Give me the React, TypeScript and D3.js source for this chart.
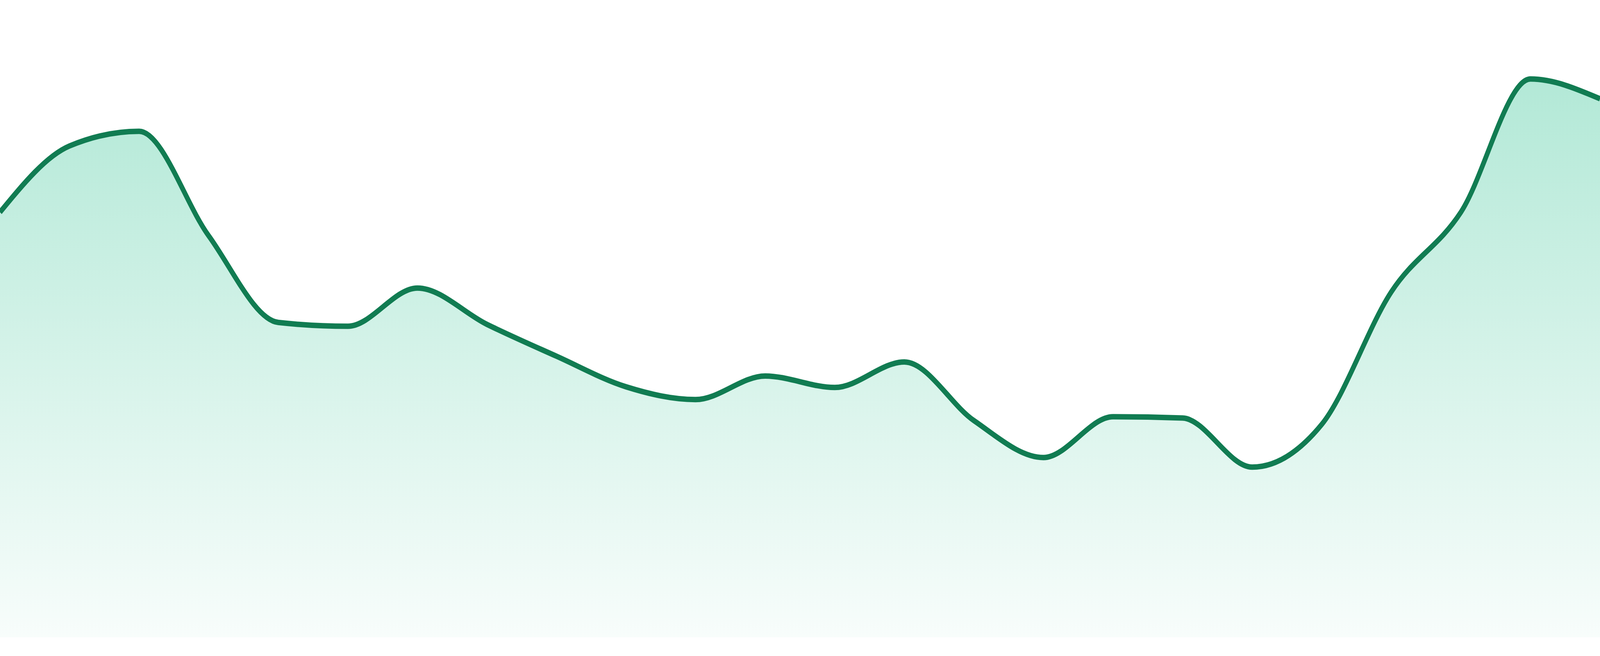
import React, { useEffect, useRef } from "react";
import * as d3 from "d3";

// hourly buckets, 24 points
const hours = [
  "00:00", "01:00", "02:00", "03:00", "04:00", "05:00",
  "06:00", "07:00", "08:00", "09:00", "10:00", "11:00",
  "12:00", "13:00", "14:00", "15:00", "16:00", "17:00",
  "18:00", "19:00", "20:00", "21:00", "22:00", "23:00",
];

const activity = [
  66.7, 77.1, 79.4, 63.0, 49.4, 48.8,
  54.8, 49.1, 44.1, 39.3, 37.3, 41.0,
  39.2, 43.2, 34.0, 28.2, 34.6, 34.4,
  26.7, 33.4, 54.2, 66.7, 87.6, 84.5,
];

const yDomain = [0, 100];

const LINE_COLOR = "#117c52";
const FILL_COLOR = "#10b981";

const W = 4800;
const H = 1680;

const App: React.FC = () => {
  const ref = useRef<SVGSVGElement>(null);

  useEffect(() => {
    document.body.style.margin = "0";
    document.body.style.overflow = "hidden";
    if (!ref.current) return;

    const svg = d3.select(ref.current);
    svg.selectAll("*").remove();

    const bottom = 1632;

    const chartData = hours.map((h, i) => ({ hour: h, value: activity[i] }));

    const x = d3.scalePoint<string>().domain(hours).range([0, W]);
    const y = d3.scaleLinear().domain(yDomain).range([bottom, 0]);

    const grad = svg
      .append("defs")
      .append("linearGradient")
      .attr("id", "areaFill")
      .attr("x1", 0)
      .attr("y1", 0)
      .attr("x2", 0)
      .attr("y2", 1);
    grad.append("stop").attr("offset", "0%").attr("stop-color", FILL_COLOR).attr("stop-opacity", 0.32);
    grad.append("stop").attr("offset", "100%").attr("stop-color", FILL_COLOR).attr("stop-opacity", 0.03);

    const area = d3
      .area<{ hour: string; value: number }>()
      .x((d) => x(d.hour) || 0)
      .y0(y(0))
      .y1((d) => y(d.value))
      .curve(d3.curveMonotoneX);

    const line = d3
      .line<{ hour: string; value: number }>()
      .x((d) => x(d.hour) || 0)
      .y((d) => y(d.value))
      .curve(d3.curveMonotoneX);

    svg
      .append("path")
      .datum(chartData)
      .attr("d", area)
      .attr("fill", "url(#areaFill)");

    svg
      .append("path")
      .datum(chartData)
      .attr("d", line)
      .attr("fill", "none")
      .attr("stroke", LINE_COLOR)
      .attr("stroke-width", 14);
  }, []);

  return (
    <svg
      ref={ref}
      viewBox={`0 0 ${W} ${H}`}
      preserveAspectRatio="none"
      style={{ display: "block", width: "100vw", height: "100vh", background: "#fff" }}
    />
  );
};

export default App;
